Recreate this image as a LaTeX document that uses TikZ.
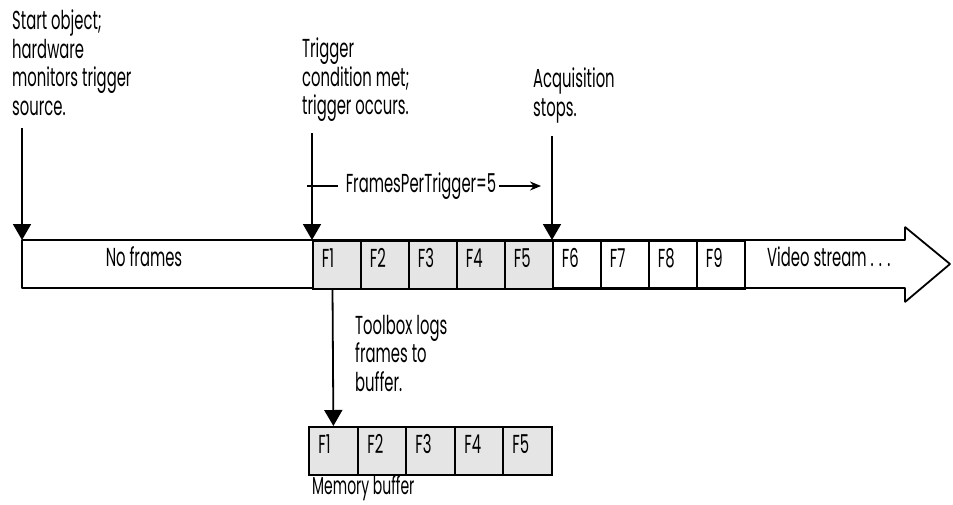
\documentclass[tikz,border=0pt]{standalone}
\usepackage{fontspec}
\setmainfont[FakeStretch=0.57]{Poppins}
\usetikzlibrary{arrows.meta}
\newcommand\lblfont{\fontsize{26pt}{28.5pt}\selectfont}
\begin{document}
\begin{tikzpicture}[x=1pt,y=-1pt,
  every node/.style={font=\lblfont},
  edge/.style={line width=1.8pt},
  pointer/.style={line width=1.8pt,-{Triangle[width=18pt,length=16pt]}},
  cellbox/.style={draw,line width=1.8pt,minimum width=48pt,minimum height=48pt,
    anchor=north west,inner xsep=9pt,inner ysep=0pt,text width=30pt,align=left,
    text height=18pt,text depth=13pt},
  shaded/.style={fill=black!10},
  note/.style={anchor=north west,inner sep=0pt,align=left}]
\useasboundingbox (0,0) rectangle (953,504);
% big arrow outline
\coordinate (b1) at (22,240);
\coordinate (b2) at (905,240);
\coordinate (b3) at (905,227);
\coordinate (b4) at (950,264);
\coordinate (b5) at (905,302);
\coordinate (b6) at (905,288);
\coordinate (b7) at (22,288);
\draw[edge,line join=bevel] (b1) -- (b2) -- (b3) -- (b4) -- (b5) -- (b6) -- (b7) -- cycle;
% frames in the stream
\foreach \i/\x in {1/312,2/360,3/408,4/456,5/504}
  \node[cellbox,shaded] (F\i) at (\x,240) {F\i};
\foreach \i/\x in {6/552,7/600,8/648,9/696}
  \node[cellbox] (F\i) at (\x,240) {F\i};
\node (noframes) at (144,257) {No frames};
\node[anchor=west,inner sep=0pt] (video) at (767,257) {Video stream . . .};
% memory buffer
\foreach \i/\x in {1/308,2/357,3/405,4/454,5/502}
  \node[cellbox,shaded,minimum width=49pt] (M\i) at (\x,426) {F\i};
\node[anchor=base west,inner sep=0pt,font=\fontsize{24.5pt}{26pt}\selectfont] (membuf) at (312,494) {Memory buffer};
% notes
\node[note] (start) at (12,10) {Start object;\\hardware\\monitors trigger\\source.};
\node[note] (trig) at (302,38) {Trigger\\condition met;\\trigger occurs.};
\node[note] (acq) at (533,68) {Acquisition\\stops.};
\node[note] (tbx) at (355,315) {Toolbox logs\\frames to\\buffer.};
% arrows
\coordinate (s0) at (22,128);
\draw[pointer] (s0) -- (b1);
\coordinate (t0) at (312,133);
\draw[pointer] (t0) -- (F1.north west);
\coordinate (a0) at (552,136);
\draw[pointer] (a0) -- (F6.north west);
\coordinate (l0) at (332.5,288);
\draw[pointer] (l0) -- (M1.north);
% frames per trigger
\node[inner sep=0pt] (fpt) at (421,186) {FramesPerTrigger=5};
\coordinate (f0) at (307,186);
\coordinate (f1) at (541,186);
\draw[edge] (f0) -- ([xshift=-8pt]fpt.west);
\draw[edge,-{Stealth[length=11pt,width=9pt]}] ([xshift=3pt]fpt.east) -- (f1);
\end{tikzpicture}
\end{document}
